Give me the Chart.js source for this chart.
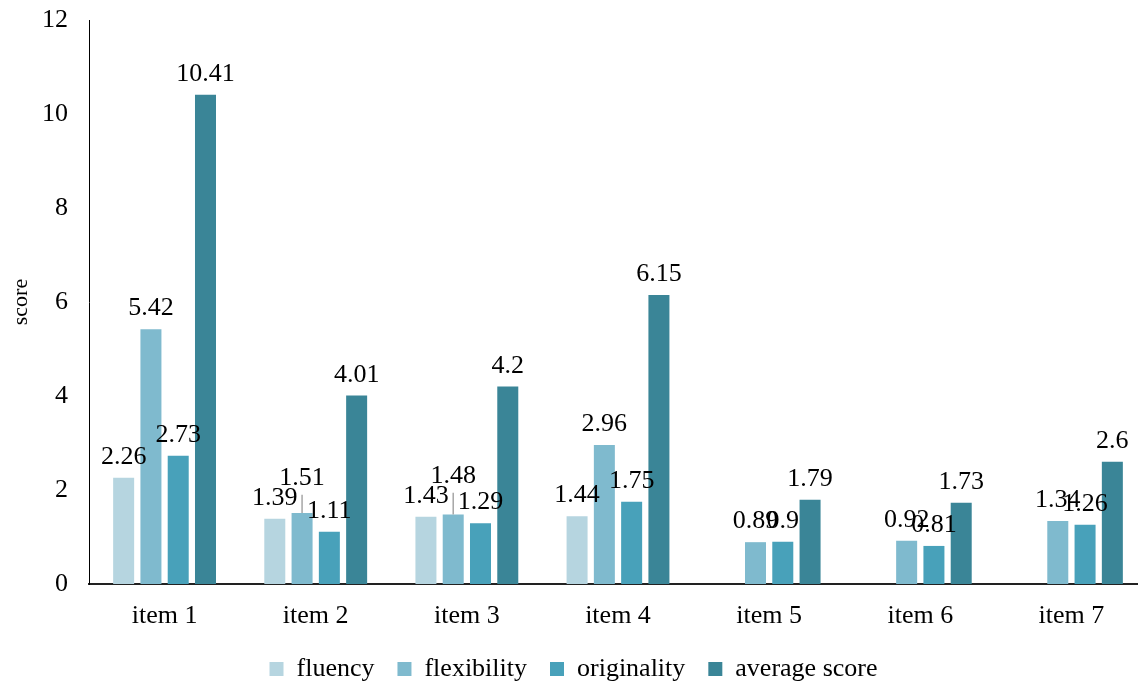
<!DOCTYPE html>
<html lang="en">
<head>
    <meta charset="UTF-8">
    <title>Item scores</title>
    <script src="https://cdn.jsdelivr.net/npm/chart.js"></script>
    <style>
        html, body {
            margin: 0;
            padding: 0;
            background: #fff;
            overflow: hidden;
        }

        .chart-container {
            width: 1147px;
            height: 683px;
        }
    </style>
</head>
<body>
    <div class="chart-container">
        <canvas id="scoreChart"></canvas>
    </div>

    <script>
        const categories = ['item 1', 'item 2', 'item 3', 'item 4', 'item 5', 'item 6', 'item 7'];
        const fluency = [2.26, 1.39, 1.43, 1.44, null, null, null];
        const flexibility = [5.42, 1.51, 1.48, 2.96, 0.89, 0.92, 1.34];
        const originality = [2.73, 1.11, 1.29, 1.75, 0.9, 0.81, 1.26];
        const averageScore = [10.41, 4.01, 4.2, 6.15, 1.79, 1.73, 2.6];
        const yMin = 0, yMax = 12, yStep = 2;

        const serif = "'Liberation Serif', 'Times New Roman', serif";

        // value labels above the bars; a flexibility label that runs into the
        // fluency label is lifted above it and gets a small leader line
        const valueLabels = {
            id: 'valueLabels',
            afterDatasetsDraw(chart) {
                const ctx = chart.ctx;
                ctx.save();
                ctx.font = '26px ' + serif;
                ctx.textAlign = 'center';
                ctx.textBaseline = 'alphabetic';
                const capH = 18;
                const placed = {};
                chart.data.datasets.forEach((ds, d) => {
                    const meta = chart.getDatasetMeta(d);
                    meta.data.forEach((bar, i) => {
                        const v = ds.data[i];
                        if (v === null || v === undefined) return;
                        const text = String(v);
                        const w = ctx.measureText(text).width;
                        let base = bar.y - 14;
                        let lifted = false;
                        const prev = placed[i];
                        if (d === 1 && prev) {
                            const overlapX = Math.abs(prev.x - bar.x) < (prev.w + w) / 2;
                            const overlapY = Math.abs(prev.base - base) < capH;
                            if (overlapX && overlapY) {
                                base = prev.base - capH - 2;
                                lifted = true;
                            }
                        }
                        if (d === 0) placed[i] = { x: bar.x, w: w, base: base };
                        ctx.fillStyle = '#000';
                        ctx.fillText(text, bar.x, base);
                        if (lifted) {
                            ctx.strokeStyle = '#a6a6a6';
                            ctx.lineWidth = 1.5;
                            ctx.beginPath();
                            ctx.moveTo(bar.x, base + 10);
                            ctx.lineTo(bar.x, bar.y);
                            ctx.stroke();
                        }
                    });
                });
                ctx.restore();
            }
        };

        // keep the legend band short so the axis labels get room
        const legendBand = {
            id: 'legendBand',
            beforeLayout(chart) {
                const legend = chart.legend;
                if (!legend || legend._bandFixed) return;
                const fit = legend.fit;
                legend.fit = function () {
                    fit.call(this);
                    this.height = 50;
                };
                legend._bandFixed = true;
            }
        };

        const ctx = document.getElementById('scoreChart').getContext('2d');
        const scoreChart = new Chart(ctx, {
            type: 'bar',
            data: {
                labels: categories,
                datasets: [
                    { label: 'fluency', data: fluency, backgroundColor: '#b6d5e0' },
                    { label: 'flexibility', data: flexibility, backgroundColor: '#7fbace' },
                    { label: 'originality', data: originality, backgroundColor: '#48a1ba' },
                    { label: 'average score', data: averageScore, backgroundColor: '#3a8597' }
                ]
            },
            options: {
                responsive: true,
                maintainAspectRatio: false,
                animation: false,
                datasets: {
                    bar: {
                        categoryPercentage: 0.722,
                        barPercentage: 0.77,
                        borderWidth: 0
                    }
                },
                layout: {
                    padding: { top: 20, left: 0, right: 0, bottom: 0 }
                },
                plugins: {
                    tooltip: { enabled: false },
                    legend: {
                        position: 'bottom',
                        labels: {
                            boxWidth: 14,
                            boxHeight: 14,
                            padding: 23,
                            color: '#000',
                            font: { family: serif, size: 26 }
                        }
                    }
                },
                scales: {
                    x: {
                        grid: { display: false },
                        border: { display: true, color: '#222', width: 2 },
                        ticks: {
                            color: '#000',
                            padding: 9,
                            font: { family: serif, size: 26 }
                        },
                        afterFit(scale) {
                            scale.height = 49;
                        }
                    },
                    y: {
                        min: yMin,
                        max: yMax,
                        grid: { display: false, drawTicks: false },
                        border: { display: true, color: '#000', width: 1 },
                        ticks: {
                            stepSize: yStep,
                            color: '#000',
                            padding: 21,
                            font: { family: serif, size: 26 }
                        },
                        title: {
                            display: true,
                            text: 'score',
                            color: '#000',
                            padding: { top: 8, bottom: 0 },
                            font: { family: serif, size: 22 }
                        },
                        afterFit(scale) {
                            scale.width = 89;
                            scale.paddingTop = 0;
                        }
                    }
                }
            },
            plugins: [valueLabels, legendBand]
        });
    </script>
</body>
</html>
